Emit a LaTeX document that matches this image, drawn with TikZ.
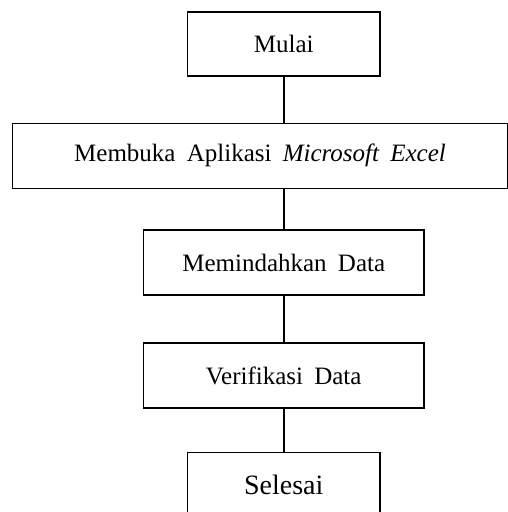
\documentclass[tikz,border=0pt]{standalone}
\usepackage{fontspec}
\setmainfont[WordSpace=1.8]{Liberation Serif}
\begin{document}
\begin{tikzpicture}[x=1pt,y=-1pt,
  flowbox/.style={draw=black, line width=1.6pt, inner sep=0pt, font=\fontsize{25}{30}\selectfont},
  flowline/.style={draw=black, line width=1.6pt}]
\useasboundingbox (0,0) rectangle (508,512);
\clip (0,0) rectangle (508,512);
\node[flowbox, minimum width=192.7pt, minimum height=64.3pt] (mulai) at (283.7,43.9) {Mulai};
\node[flowbox, minimum width=495pt, minimum height=65pt] (buka) at (260,155.8) {Membuka Aplikasi \textit{Microsoft Excel}};
\node[flowbox, minimum width=280.7pt, minimum height=65pt] (pindah) at (283.7,262.5) {Memindahkan Data};
\node[flowbox, minimum width=280.7pt, minimum height=65pt] (verif) at (283.7,375.5) {Verifikasi Data};
\node[flowbox, minimum width=192.7pt, minimum height=65pt, font=\fontsize{28}{33}\selectfont] (selesai) at (283.7,485) {Selesai};
\draw[flowline] (mulai.south) -- (mulai.south |- buka.north);
\draw[flowline] (pindah.north) -- (pindah.north |- buka.south);
\draw[flowline] (pindah.south) -- (verif.north);
\draw[flowline] (verif.south) -- (selesai.north);
\end{tikzpicture}
\end{document}
